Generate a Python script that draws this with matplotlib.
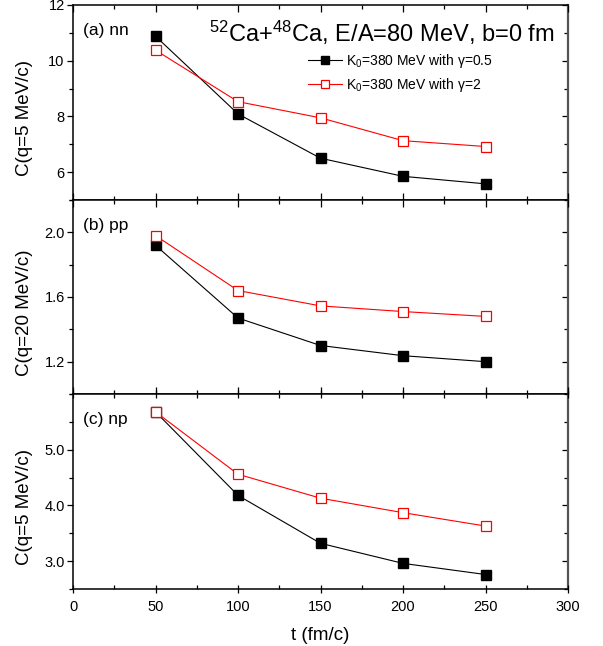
import matplotlib
matplotlib.use("Agg")
import matplotlib.pyplot as plt
from matplotlib.ticker import MultipleLocator, FixedLocator, FormatStrFormatter

plt.rcParams['font.family'] = ['Liberation Sans', 'DejaVu Sans']
plt.rcParams['mathtext.fontset'] = 'custom'
plt.rcParams['mathtext.rm'] = 'Liberation Sans'
plt.rcParams['mathtext.it'] = 'Liberation Sans:italic'

# time steps (fm/c)
t = [50, 100, 150, 200, 250]

# (a) nn, q=5 MeV/c
nn_soft = [10.88, 8.09, 6.50, 5.85, 5.58]
nn_stiff = [10.38, 8.53, 7.95, 7.13, 6.92]
# (b) pp, q=20 MeV/c
pp_soft = [1.92, 1.47, 1.30, 1.237, 1.20]
pp_stiff = [1.98, 1.64, 1.545, 1.51, 1.48]
# (c) np, q=5 MeV/c
np_soft = [5.68, 4.18, 3.32, 2.96, 2.76]
np_stiff = [5.68, 4.56, 4.13, 3.87, 3.63]

panel_tags = ['(a) nn', '(b) pp', '(c) np']
ylabels = ['C(q=5 MeV/c)', 'C(q=20 MeV/c)', 'C(q=5 MeV/c)']
ylims = [(5, 12), (1.0, 2.2), (2.5, 6.0)]
yticks = [[6, 8, 10, 12], [1.2, 1.6, 2.0], [3.0, 4.0, 5.0]]
yminor = [1, 0.2, 0.5]
yfmt = ['%d', '%.1f', '%.1f']
label_soft = r'K$_0$=380 MeV with γ=0.5'
label_stiff = r'K$_0$=380 MeV with γ=2'

fig = plt.figure(figsize=(6.03, 6.46), dpi=100)

left, right = 73 / 603, 568 / 603
edges = [1 - 5 / 646, 1 - 200 / 646, 1 - 394 / 646, 1 - 589 / 646]

series = [(nn_soft, nn_stiff), (pp_soft, pp_stiff), (np_soft, np_stiff)]
axes = []
for i in range(3):
    ax = fig.add_axes([left, edges[i + 1], right - left, edges[i] - edges[i + 1]])
    axes.append(ax)
    soft, stiff = series[i]
    ax.plot(t, soft, color='black', lw=0.8, marker='s', ms=6.5,
            mfc='black', mec='black', label=label_soft)
    ax.plot(t, stiff, color='red', lw=0.8, marker='s', ms=6.5,
            mfc='white', mec='red', mew=0.9, label=label_stiff)

    ax.set_xlim(0, 300)
    ax.set_ylim(*ylims[i])
    ax.xaxis.set_major_locator(MultipleLocator(50))
    ax.xaxis.set_minor_locator(MultipleLocator(25))
    ax.yaxis.set_major_locator(FixedLocator(yticks[i]))
    ax.yaxis.set_minor_locator(MultipleLocator(yminor[i]))
    ax.yaxis.set_major_formatter(FormatStrFormatter(yfmt[i]))

    ax.tick_params(axis='y', which='both', left=True, right=False,
                   direction='out', labelsize=10.5, pad=2)
    ax.tick_params(axis='y', which='major', length=4, width=0.9)
    ax.tick_params(axis='y', which='minor', length=3, width=0.9)
    ax.tick_params(axis='x', which='both', top=True, bottom=True,
                   direction='in', labelsize=10.5, labelbottom=(i == 2))
    ax.tick_params(axis='x', which='major', length=5, width=0.9)
    ax.tick_params(axis='x', which='minor', length=3, width=0.9)
    if i == 2:
        ax.tick_params(axis='x', which='major', bottom=True, direction='inout',
                       length=6, pad=5)

    # right-hand ticks pointing inward
    sec = ax.secondary_yaxis('right')
    sec.yaxis.set_major_locator(FixedLocator(yticks[i]))
    sec.yaxis.set_minor_locator(MultipleLocator(yminor[i]))
    sec.tick_params(which='both', direction='in', labelright=False, width=0.9)
    sec.tick_params(which='major', length=4)
    sec.tick_params(which='minor', length=3)
    sec.spines['right'].set_color('#555555')
    sec.spines['right'].set_linewidth(1.6)

    for s in ['left', 'bottom', 'top']:
        ax.spines[s].set_linewidth(1.1)
    ax.spines['right'].set_visible(False)

    ax.text(0.02, 0.87, panel_tags[i], transform=ax.transAxes,
            ha='left', va='center', fontsize=12.5)
    ax.text(-0.097, 0.42, ylabels[i], transform=ax.transAxes, rotation=90,
            ha='center', va='center', fontsize=13.5)

axes[0].text(0.972, 0.812, r'$^{52}$Ca+$^{48}$Ca, E/A=80 MeV, b=0 fm',
             transform=axes[0].transAxes, ha='right', va='baseline', fontsize=17)
axes[0].legend(loc='center left', bbox_to_anchor=(0.475, 0.651), frameon=False,
               fontsize=10, handlelength=2.45, handletextpad=0.25,
               labelspacing=0.4, borderpad=0, borderaxespad=0, markerscale=0.85)

fig.text((left + right) / 2, 11 / 646, 't (fm/c)', ha='center', va='center',
         fontsize=13.5)

fig.savefig('out.png', dpi=100)
